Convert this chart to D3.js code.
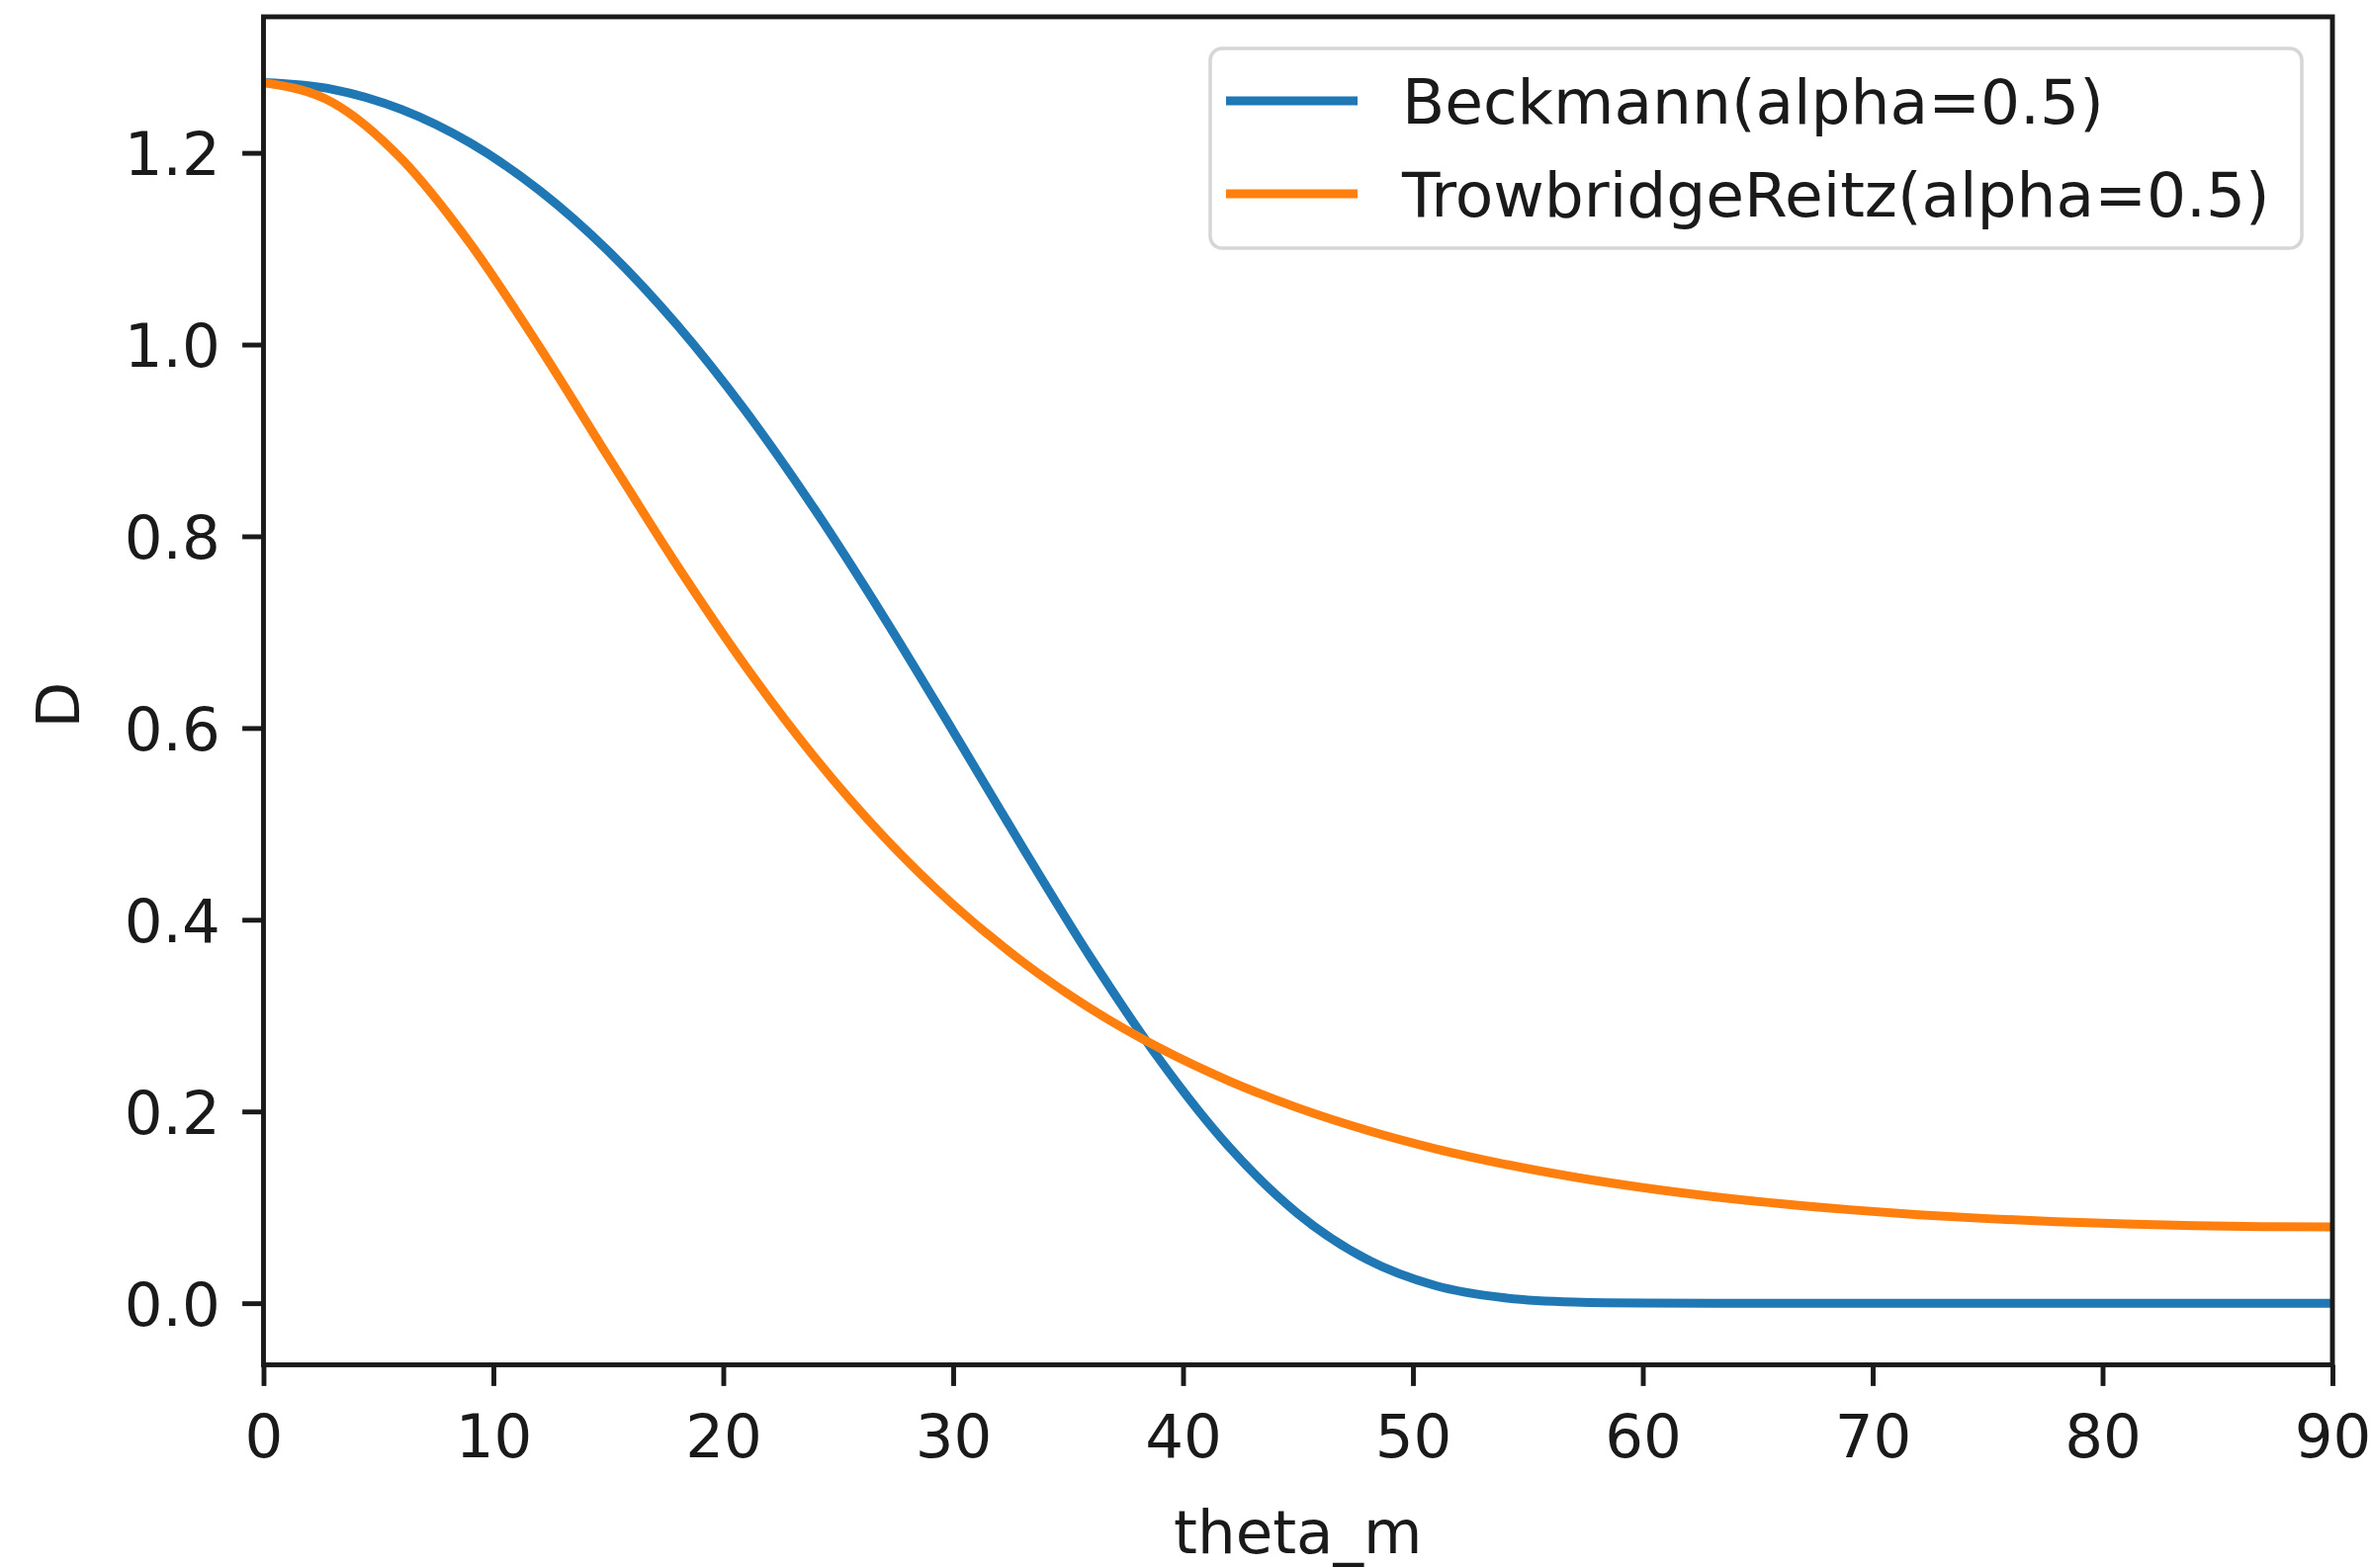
<!DOCTYPE html>
<html>
<meta charset="utf-8">
<style>
body { margin: 0; background: #fff; }
text { font-family: "DejaVu Sans", sans-serif; fill: #1a1a1a; }
</style>
<body>
<script src="https://d3js.org/d3.v7.min.js"></script>
<script>
// theta_m in degrees, read every 3 degrees
var theta = [0, 3, 6, 9, 12, 15, 18, 21, 24, 27, 30, 33, 36, 39, 42, 45,
             48, 51, 54, 57, 60, 63, 66, 69, 72, 75, 78, 81, 84, 87, 90];

var beckmann = [1.2732, 1.2663, 1.2453, 1.2102, 1.1609, 1.0975, 1.0202, 0.9297,
                0.8272, 0.7151, 0.5967, 0.4764, 0.3598, 0.2534, 0.1630, 0.0933,
                0.0457, 0.0182, 0.0055, 0.0011, 0.0001, 0, 0, 0,
                0, 0, 0, 0, 0, 0, 0];

var trowbridge = [1.2732, 1.2526, 1.1937, 1.1050, 0.9977, 0.8828, 0.7693, 0.6635,
                  0.5687, 0.4862, 0.4158, 0.3565, 0.3070, 0.2659, 0.2319, 0.2037,
                  0.1804, 0.1610, 0.1450, 0.1316, 0.1205, 0.1113, 0.1037, 0.0975,
                  0.0923, 0.0882, 0.0850, 0.0826, 0.0809, 0.0799, 0.0796];

var seriesNames = ["Beckmann(alpha=0.5)", "TrowbridgeReitz(alpha=0.5)"];
var seriesColors = ["#1f77b4", "#ff7f0e"];
var xTicks = [0, 10, 20, 30, 40, 50, 60, 70, 80, 90];
var yTicks = [0.0, 0.2, 0.4, 0.6, 0.8, 1.0, 1.2];

var width = 2398,
    height = 1586;

// plot area (note: "top" is reserved on window, so use m-prefixed names)
var mLeft = 266.5, mRight = 2359, mTop = 17, mBottom = 1380.5;
var fs = 61;          // font size
var tickLen = 21.4, pad = 21.4;

var svg = d3.select("body").append("svg")
    .attr("width", width)
    .attr("height", height);

svg.append("rect").attr("width", width).attr("height", height).attr("fill", "#fff");

var x = d3.scaleLinear().domain([0, 90]).range([mLeft, mRight]);
var y = d3.scaleLinear().domain([-0.0643, 1.3419]).range([mBottom, mTop]);

svg.append("clipPath").attr("id", "clip")
  .append("rect")
    .attr("x", mLeft).attr("y", mTop)
    .attr("width", mRight - mLeft).attr("height", mBottom - mTop);

var line = d3.line()
    .x(function(d) { return x(d[0]); })
    .y(function(d) { return y(d[1]); })
    .curve(d3.curveMonotoneX);

[beckmann, trowbridge].forEach(function(vals, i) {
  svg.append("path")
      .datum(theta.map(function(t, j) { return [t, vals[j]]; }))
      .attr("clip-path", "url(#clip)")
      .attr("fill", "none")
      .attr("stroke", seriesColors[i])
      .attr("stroke-width", 9)
      .attr("stroke-linejoin", "round")
      .attr("stroke-linecap", "butt")
      .attr("d", line);
});

// axes
var xAxis = svg.append("g")
    .attr("transform", "translate(0," + mBottom + ")")
    .call(d3.axisBottom(x).tickValues(xTicks).tickFormat(d3.format("d"))
      .tickSize(tickLen).tickPadding(pad));

var yAxis = svg.append("g")
    .attr("transform", "translate(" + mLeft + ",0)")
    .call(d3.axisLeft(y).tickValues(yTicks).tickFormat(d3.format(".1f"))
      .tickSize(tickLen).tickPadding(pad));

[xAxis, yAxis].forEach(function(g) {
  g.select(".domain").remove();
  g.selectAll(".tick line").attr("stroke", "#1a1a1a").attr("stroke-width", 4.9);
  g.selectAll(".tick text").style("font-size", fs + "px").attr("fill", "#1a1a1a");
});
xAxis.selectAll(".tick text").attr("dy", null).attr("y", 1474 - mBottom);
yAxis.selectAll(".tick text").attr("dy", "0.36em").attr("x", -(tickLen + pad + 1));

// frame
svg.append("rect")
    .attr("x", mLeft).attr("y", mTop)
    .attr("width", mRight - mLeft).attr("height", mBottom - mTop)
    .attr("fill", "none")
    .attr("stroke", "#1a1a1a")
    .attr("stroke-width", 4.9);

// labels
svg.append("text")
    .attr("x", (mLeft + mRight) / 2).attr("y", 1571)
    .attr("text-anchor", "middle")
    .style("font-size", fs + "px")
    .text("theta_m");

svg.append("text")
    .attr("transform", "translate(80,713) rotate(-90)")
    .attr("text-anchor", "middle")
    .style("font-size", fs + "px")
    .text("D");

// legend
var legend = svg.append("g");
legend.append("rect")
    .attr("x", 1224).attr("y", 49)
    .attr("width", 2328 - 1224).attr("height", 251 - 49)
    .attr("rx", 12).attr("ry", 12)
    .attr("fill", "#fff").attr("fill-opacity", 0.8)
    .attr("stroke", "#d6d6d6").attr("stroke-width", 3.5);

var rowY = [102, 196];
seriesNames.forEach(function(name, i) {
  legend.append("line")
      .attr("x1", 1240).attr("x2", 1373)
      .attr("y1", rowY[i]).attr("y2", rowY[i])
      .attr("stroke", seriesColors[i])
      .attr("stroke-width", 9);
  legend.append("text")
      .attr("x", 1418).attr("y", rowY[i] + 23)
      .style("font-size", "63px")
      .text(name);
});
</script>
</body>
</html>
